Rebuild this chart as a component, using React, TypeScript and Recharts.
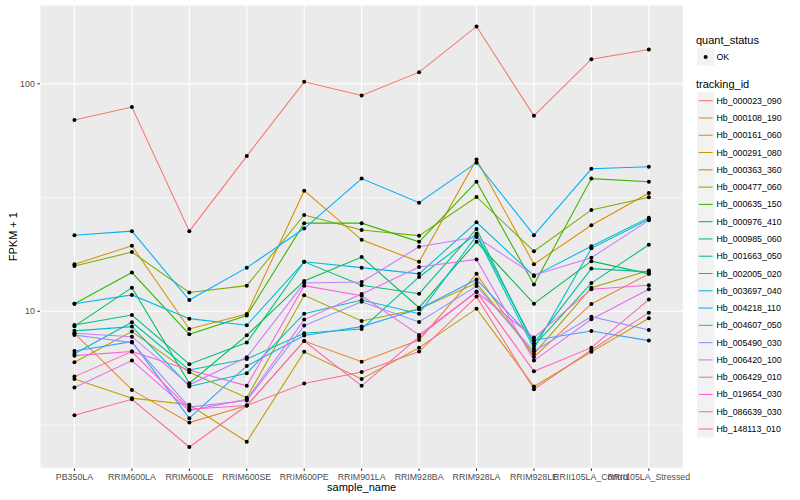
import { LineChart, Line, XAxis, YAxis, CartesianGrid } from 'recharts';

const samples = [
  'PB350LA', 'RRIM600LA', 'RRIM600LE', 'RRIM600SE', 'RRIM600PE', 'RRIM901LA',
  'RRIM928BA', 'RRIM928LA', 'RRIM928LE', 'RRII105LA_Control', 'RRII105LA_Stressed',
];

const trackingIds = [
  'Hb_000023_090', 'Hb_000108_190', 'Hb_000161_060', 'Hb_000291_080', 'Hb_000363_360',
  'Hb_000477_060', 'Hb_000635_150', 'Hb_000976_410', 'Hb_000985_060', 'Hb_001663_050',
  'Hb_002005_020', 'Hb_003697_040', 'Hb_004218_110', 'Hb_004607_050', 'Hb_005490_030',
  'Hb_006420_100', 'Hb_006429_010', 'Hb_019654_030', 'Hb_086639_030', 'Hb_148113_010',
];

// ggplot default hue palette, 20 levels
const hueColours = [
  '#F8766D', '#EA8331', '#D89000', '#C09B00', '#A3A500', '#7CAE00', '#39B600', '#00BB4E',
  '#00BF7D', '#00C1A3', '#00BFC4', '#00BAE0', '#00B0F6', '#35A2FF', '#9590FF', '#C77CFF',
  '#E76BF3', '#FA62DB', '#FF62BC', '#FF6C91',
];

// FPKM + 1, one value per sample
const hb_000023_090 = [69.3, 79, 22.5, 48.1, 102, 88.9, 112.5, 178.7, 72.3, 128.3, 141.6];
const hb_000108_190 = [8.0, 4.51, 3.24, 3.85, 7.4, 6.0, 7.48, 14.6, 6.3, 10.77, 14.6];
const hb_000161_060 = [16.1, 19.4, 8.36, 9.73, 33.9, 20.6, 16.5, 46.5, 16.1, 23.9, 33.1];
const hb_000291_080 = [5.04, 4.15, 3.88, 2.67, 6.63, 5.04, 6.92, 10.27, 4.67, 6.63, 9.32];
const hb_000363_360 = [5.97, 8.14, 5.39, 4.17, 11.75, 9.07, 10.23, 13.3, 6.49, 12.7, 15.1];
const hb_000477_060 = [15.8, 18.2, 12.1, 12.96, 26.5, 22.75, 21.5, 31.8, 18.35, 27.9, 31.7];
const hb_000635_150 = [10.8, 14.8, 7.92, 9.57, 24.4, 24.4, 20.2, 37.1, 13.1, 38.3, 37.1];
const hb_000976_410 = [8.6, 12.7, 4.83, 7.84, 13.6, 17.3, 10.37, 20.2, 10.8, 16.6, 14.6];
const hb_000985_060 = [8.7, 9.63, 5.85, 7.28, 16.5, 13.0, 11.95, 23.0, 7.04, 13.3, 19.6];
const hb_001663_050 = [6.5, 8.95, 5.52, 6.17, 8.0, 8.36, 14.15, 21.9, 7.24, 15.4, 14.9];
const hb_002005_020 = [8.2, 8.56, 4.67, 5.34, 9.76, 11.2, 9.76, 21.5, 6.85, 18.9, 25.4];
const hb_003697_040 = [10.8, 11.8, 9.28, 8.68, 16.5, 15.55, 14.6, 24.6, 14.3, 19.3, 25.8];
const hb_004218_110 = [21.6, 22.5, 11.2, 15.55, 23.1, 38.3, 30.0, 45.0, 21.6, 42.3, 43.2];
const hb_004607_050 = [6.69, 7.35, 3.39, 5.75, 7.82, 8.56, 10.23, 13.8, 7.46, 8.19, 7.43];
const hb_005490_030 = [7.87, 7.28, 3.79, 4.05, 8.65, 11.0, 8.97, 12.9, 6.67, 9.47, 8.28];
const hb_006420_100 = [8.0, 7.73, 4.75, 6.28, 13.3, 13.45, 19.2, 21.2, 14.4, 17.2, 25.1];
const hb_006429_010 = [4.62, 6.07, 3.66, 4.1, 9.19, 11.9, 15.65, 16.9, 6.07, 9.22, 12.5];
const hb_019654_030 = [6.38, 6.65, 5.52, 4.7, 12.96, 11.7, 7.87, 12.15, 7.66, 12.5, 13.0];
const hb_086639_030 = [5.16, 6.65, 3.71, 3.85, 7.4, 4.7, 7.73, 12.2, 5.45, 6.92, 11.25];
const hb_148113_010 = [3.49, 4.1, 2.53, 3.85, 4.81, 5.41, 6.65, 11.6, 4.54, 6.76, 9.86];

const seriesValues = [
  hb_000023_090, hb_000108_190, hb_000161_060, hb_000291_080, hb_000363_360,
  hb_000477_060, hb_000635_150, hb_000976_410, hb_000985_060, hb_001663_050,
  hb_002005_020, hb_003697_040, hb_004218_110, hb_004607_050, hb_005490_030,
  hb_006420_100, hb_006429_010, hb_019654_030, hb_086639_030, hb_148113_010,
];

const majorTicks = [10, 100];
const minorTicks = [3.1623, 31.623];
const yDomain = [2.04, 222];

const font = '"Liberation Sans", Arial, sans-serif';

const data = samples.map((name, idx) => {
  const row: Record<string, number | string> = { idx, name };
  trackingIds.forEach((id, k) => {
    row[id] = seriesValues[k][idx];
  });
  return row;
});

const YTitle = (props: any) => {
  const { viewBox } = props;
  const cy = viewBox.y + viewBox.height / 2;
  return (
    <text x={13.5} y={cy} transform={`rotate(-90 13.5 ${cy})`} textAnchor="middle"
      dominantBaseline="central" fontSize={11} fill="#000">
      FPKM + 1
    </text>
  );
};

const XTitle = (props: any) => {
  const { viewBox } = props;
  return (
    <text x={viewBox.x + viewBox.width / 2} y={viewBox.y + 23} textAnchor="middle"
      fontSize={11} fill="#000">
      sample_name
    </text>
  );
};

const LegendPanel = () => {
  const key = 17.28;
  const first = 100.7;
  return (
    <svg width={800} height={500} style={{ position: 'absolute', left: 0, top: 0, fontFamily: font }}>
      <text x={696} y={40} fontSize={11} dominantBaseline="central">quant_status</text>
      <rect x={697} y={57 - key / 2} width={key} height={key} fill="#F2F2F2" />
      <circle cx={697 + key / 2} cy={57} r={2} fill="#000" />
      <text x={716.5} y={57} fontSize={8.8} dominantBaseline="central">OK</text>
      <text x={696} y={83.5} fontSize={11} dominantBaseline="central">tracking_id</text>
      {trackingIds.map((id, k) => {
        const cy = first + k * key;
        return (
          <g key={id}>
            <rect x={697} y={cy - key / 2} width={key} height={key} fill="#F2F2F2" />
            <line x1={698.7} x2={712.6} y1={cy} y2={cy} stroke={hueColours[k]} strokeWidth={1.07} />
            <text x={716.5} y={cy} fontSize={8.8} dominantBaseline="central">{id}</text>
          </g>
        );
      })}
    </svg>
  );
};

export default function App() {
  return (
    <div style={{ position: 'absolute', left: 0, top: 0, width: 800, height: 500, background: '#fff' }}>
      <LineChart
        width={800}
        height={500}
        data={data}
        margin={{ top: 5, right: 116.7, left: 0, bottom: 0 }}
        style={{ fontFamily: font }}
      >
        <CartesianGrid fill="#EBEBEB" stroke="#FFFFFF" strokeWidth={1.07} />
        <CartesianGrid yAxisId="minor" vertical={false} stroke="#FFFFFF" strokeWidth={0.53} />
        <XAxis
          dataKey="idx"
          type="number"
          domain={[-0.6, 10.6]}
          ticks={samples.map((_, i) => i)}
          tickFormatter={(i: number) => samples[i]}
          interval={0}
          height={31.7}
          axisLine={false}
          tickSize={2.7}
          tickMargin={3}
          tickLine={{ stroke: '#333333' }}
          tick={{ fontSize: 8.8, fill: '#4D4D4D' }}
          label={<XTitle />}
        />
        <YAxis
          scale="log"
          domain={yDomain}
          allowDataOverflow
          ticks={majorTicks}
          width={40}
          axisLine={false}
          tickSize={2.7}
          tickMargin={2.5}
          tickLine={{ stroke: '#333333' }}
          tick={{ fontSize: 8.8, fill: '#4D4D4D' }}
          label={<YTitle />}
        />
        <YAxis yAxisId="minor" hide scale="log" domain={yDomain} allowDataOverflow ticks={minorTicks} />
        {trackingIds.map((id, k) => (
          <Line
            key={id}
            dataKey={id}
            stroke={hueColours[k]}
            strokeWidth={1.07}
            dot={false}
            activeDot={false}
            isAnimationActive={false}
          />
        ))}
        {trackingIds.map((id) => (
          <Line
            key={id + '_pt'}
            dataKey={id}
            stroke="none"
            dot={{ r: 2, fill: '#000000', stroke: 'none' }}
            activeDot={false}
            legendType="none"
            isAnimationActive={false}
          />
        ))}
      </LineChart>
      <LegendPanel />
    </div>
  );
}
